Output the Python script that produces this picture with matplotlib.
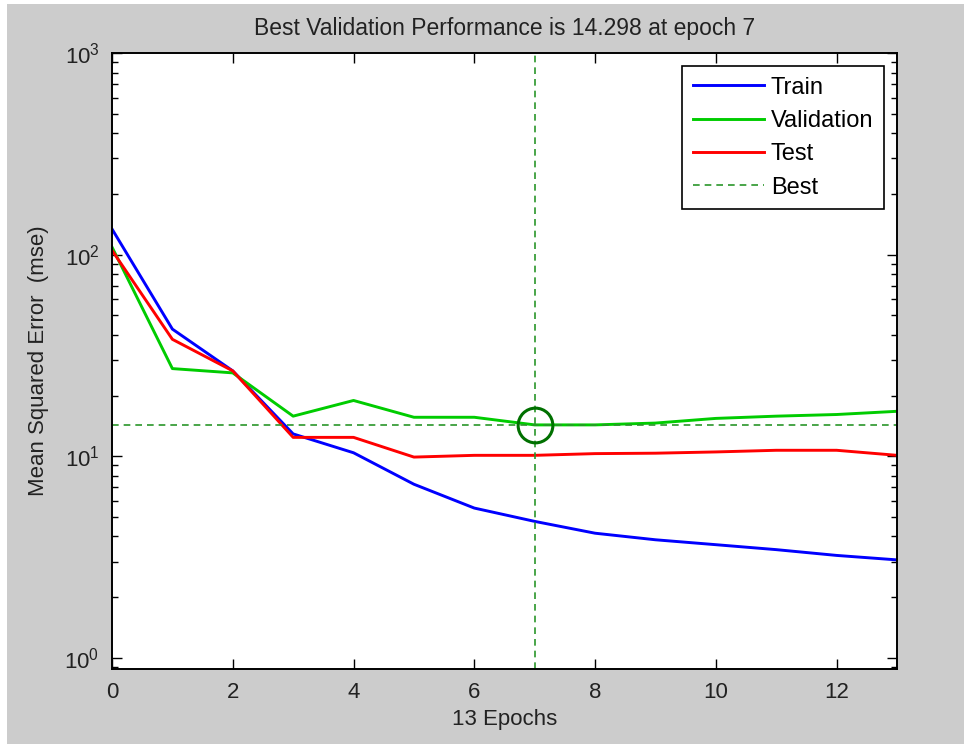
import numpy as np
import matplotlib.pyplot as plt
from matplotlib.patches import Rectangle
from matplotlib.ticker import LogLocator, NullFormatter

plt.rcParams['font.family'] = ['Liberation Sans', 'DejaVu Sans']
plt.rcParams['mathtext.default'] = 'regular'

# performance per epoch
epochs = np.arange(0, 14)
train = [134, 42.7, 26.5, 12.9, 10.4, 7.26, 5.53, 4.75, 4.15, 3.85, 3.64, 3.44, 3.22, 3.06]
validation = [109, 27.2, 25.9, 15.8, 18.9, 15.6, 15.6, 14.298, 14.3, 14.6, 15.4, 15.8, 16.1, 16.7]
test = [105, 38, 26.5, 12.4, 12.4, 9.9, 10.1, 10.1, 10.3, 10.35, 10.5, 10.7, 10.7, 10.1]
best_epoch = 7
best_perf = 14.298

fig = plt.figure(figsize=(9.64, 7.44), dpi=100, facecolor='white')
# gray window background (screenshot leaves a thin white strip top/left)
fig.patches.append(Rectangle((7 / 964, 0), 1, 740 / 744, transform=fig.transFigure,
                             facecolor='#cccccc', edgecolor='none', zorder=-10))

ax = fig.add_axes([112 / 964, 75 / 744, 785 / 964, 616 / 744])
ax.set_facecolor('white')

ax.plot(epochs, train, color='#0000ff', lw=2.1, label='Train')
ax.plot(epochs, validation, color='#00cc00', lw=2.1, label='Validation')
ax.plot(epochs, test, color='#ff0000', lw=2.1, label='Test')

best_color = '#2a962a'
ax.axvline(best_epoch, color=best_color, lw=1.2, ls=(0, (4, 3)), label='Best')
ax.axhline(best_perf, color=best_color, lw=1.2, ls=(0, (4, 3)))
ax.plot([best_epoch], [best_perf], 'o', ms=25, mfc='none', mec='#007000', mew=2.2)

ax.set_yscale('log')
ax.set_xlim(0, 13)
ax.set_ylim(0.88, 1000)
ax.set_xticks(range(0, 13, 2))
ax.yaxis.set_major_locator(LogLocator(base=10, numticks=10))
ax.yaxis.set_minor_locator(LogLocator(base=10, subs=np.arange(2, 10), numticks=20))
ax.yaxis.set_minor_formatter(NullFormatter())

ax.tick_params(which='both', direction='in', top=True, right=True, colors='black',
               labelcolor='#222222', labelsize=16)
ax.tick_params(which='major', length=7, width=1, pad=9)
ax.tick_params(which='minor', length=4.5, width=1)
for s in ax.spines.values():
    s.set_linewidth(1.4)
    s.set_color('black')

ax.set_title('Best Validation Performance is 14.298 at epoch 7', fontsize=16.5,
             color='#222222', pad=13)
ax.set_xlabel('13 Epochs', fontsize=16, color='#222222', labelpad=5)
ax.set_ylabel('Mean Squared Error  (mse)', fontsize=16, color='#222222', labelpad=11)

leg = ax.legend(loc='upper right', fontsize=17, frameon=True, fancybox=False,
                edgecolor='black', framealpha=1, handlelength=3.0, labelspacing=0.48,
                borderaxespad=0.55, handletextpad=0.3, borderpad=0.45)
leg.get_frame().set_linewidth(1.2)

fig.savefig('out.png', dpi=100, facecolor=fig.get_facecolor())
